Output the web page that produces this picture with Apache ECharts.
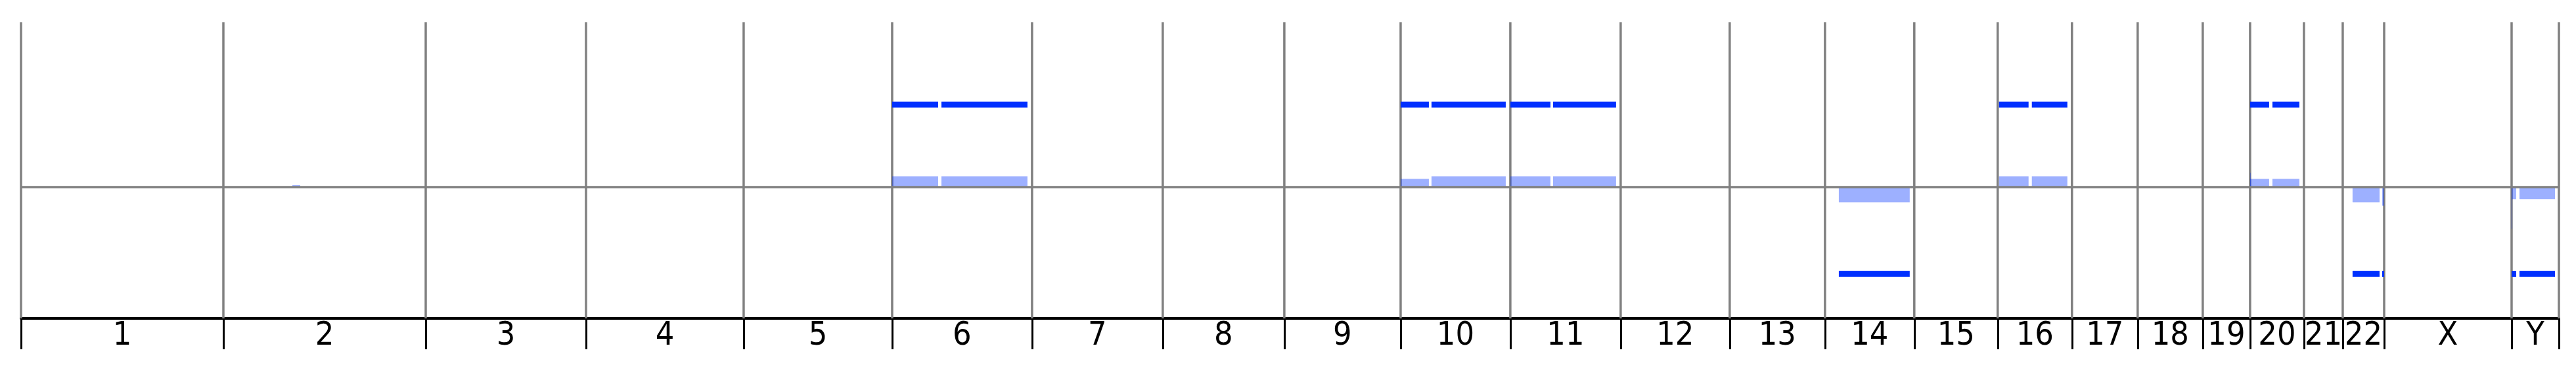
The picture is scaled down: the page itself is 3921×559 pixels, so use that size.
<!doctype html>
<html lang="en">
<head>
<meta charset="UTF-8">
<title>Genome copy number</title>
<script src="https://cdn.jsdelivr.net/npm/echarts@6/dist/echarts.min.js"></script>
<style>html,body{margin:0;padding:0;background:#fff}</style>
</head>
<body>
<div id="main" style="width:3921px;height:559px"></div>
<script>
// chromosomes and their sizes in Mb
var chromNames = ['1','2','3','4','5','6','7','8','9','10','11','12','13','14','15','16','17','18','19','20','21','22','X','Y'];
var chromLen = [247.2,247.2,195.8,192.6,181.4,170.9,159.7,148.5,142.1,134.0,134.8,133.2,116.4,109.1,101.9,90.7,80.3,79.5,57.8,65.8,47.4,50.6,155.7,57.8];

// segments: chromosome, start / end inside chromosome (Mb), mean ratio, call level (null = no call)
var segChrom = ['2','6','6','10','10','11','11','14','14','16','16','20','20','20','22','22','Y','Y','Y'];
var segStart = [84.3,0,60.2,0,37.7,0,52.2,16.9,104.3,1.6,41.7,0,0,27.3,12.0,48.2,0,0,9.6];
var segEnd   = [93.9,56.2,165.3,34.5,128.4,49.0,129.2,103.5,107.5,37.7,85.1,0.8,23.3,60.2,45.0,50.6,5.6,0.8,53.0];
var segMean  = [0.02,0.128,0.128,0.096,0.128,0.128,0.128,-0.19,0.01,0.128,0.128,0.17,0.096,0.096,-0.19,-0.23,-0.15,-0.51,-0.15];
var segCall  = [null,1,1,1,1,1,1,-1.06,null,1,1,null,1,1,-1.06,-1.06,-1.06,null,-1.06];

var yMin = -1.6, yMax = 2.0;

var chromStart = [], bounds = [0], centers = [];
var acc = 0;
for (var i = 0; i < chromLen.length; i++) {
    chromStart.push(acc);
    centers.push(acc + chromLen[i] / 2);
    acc += chromLen[i];
    bounds.push(acc);
}
var total = acc;

var barData = [], callData = [];
for (var j = 0; j < segChrom.length; j++) {
    var off = chromStart[chromNames.indexOf(segChrom[j])];
    barData.push([off + segStart[j], off + segEnd[j], segMean[j]]);
    if (segCall[j] !== null) {
        callData.push([off + segStart[j], off + segEnd[j], segCall[j]]);
    }
}

function chromLabel(v) {
    var best = 0;
    for (var k = 1; k < centers.length; k++) {
        if (Math.abs(centers[k] - v) < Math.abs(centers[best] - v)) best = k;
    }
    return chromNames[best];
}

var mychart = echarts.init(document.getElementById('main'), null, {renderer: 'canvas'});
var option = {
    animation: false,
    backgroundColor: '#fff',
    grid: {left: 32, right: 26, top: 34, bottom: 74},
    xAxis: {
        type: 'value',
        min: 0,
        max: total,
        axisLine: {show: true, onZero: false, lineStyle: {color: '#000', width: 4}},
        axisTick: {show: true, customValues: bounds, length: 47, lineStyle: {color: '#000', width: 3}},
        axisLabel: {
            customValues: centers,
            formatter: chromLabel,
            margin: 2,
            color: '#000',
            fontFamily: '"Liberation Sans Narrow", "DejaVu Sans Condensed", sans-serif',
            fontSize: 50
        },
        splitLine: {show: false}
    },
    yAxis: {type: 'value', min: yMin, max: yMax, show: false},
    series: [
        {
            // chromosome boundaries + zero line
            type: 'custom',
            z: 1,
            silent: true,
            data: bounds.map(function (b) { return [b]; }),
            encode: {x: 0},
            renderItem: function (params, api) {
                var p0 = api.coord([api.value(0), yMax]);
                var p1 = api.coord([api.value(0), yMin]);
                return {
                    type: 'line',
                    shape: {x1: p0[0], y1: p0[1], x2: p1[0], y2: p1[1]},
                    style: {stroke: '#808080', lineWidth: 3.5}
                };
            },
            markLine: {
                silent: true,
                symbol: 'none',
                label: {show: false},
                lineStyle: {color: '#808080', width: 3.5, type: 'solid'},
                data: [{yAxis: 0}]
            }
        },
        {
            // mean ratio bars
            type: 'custom',
            z: 2,
            silent: true,
            data: barData,
            encode: {x: [0, 1], y: 2},
            renderItem: function (params, api) {
                var p0 = api.coord([api.value(0), 0]);
                var p1 = api.coord([api.value(1), api.value(2)]);
                return {
                    type: 'rect',
                    shape: {x: p0[0], y: Math.min(p0[1], p1[1]), width: Math.max(p1[0] - p0[0], 1), height: Math.abs(p1[1] - p0[1])},
                    style: {fill: 'rgba(0,50,255,0.385)'}
                };
            }
        },
        {
            // gain / loss calls
            type: 'custom',
            z: 3,
            silent: true,
            data: callData,
            encode: {x: [0, 1], y: 2},
            renderItem: function (params, api) {
                var p0 = api.coord([api.value(0), api.value(2)]);
                var p1 = api.coord([api.value(1), api.value(2)]);
                return {
                    type: 'rect',
                    shape: {x: p0[0], y: p0[1] - 4.5, width: Math.max(p1[0] - p0[0], 1), height: 9},
                    style: {fill: '#0030ff'}
                };
            }
        }
    ]
};
mychart.setOption(option);
</script>
</body>
</html>
